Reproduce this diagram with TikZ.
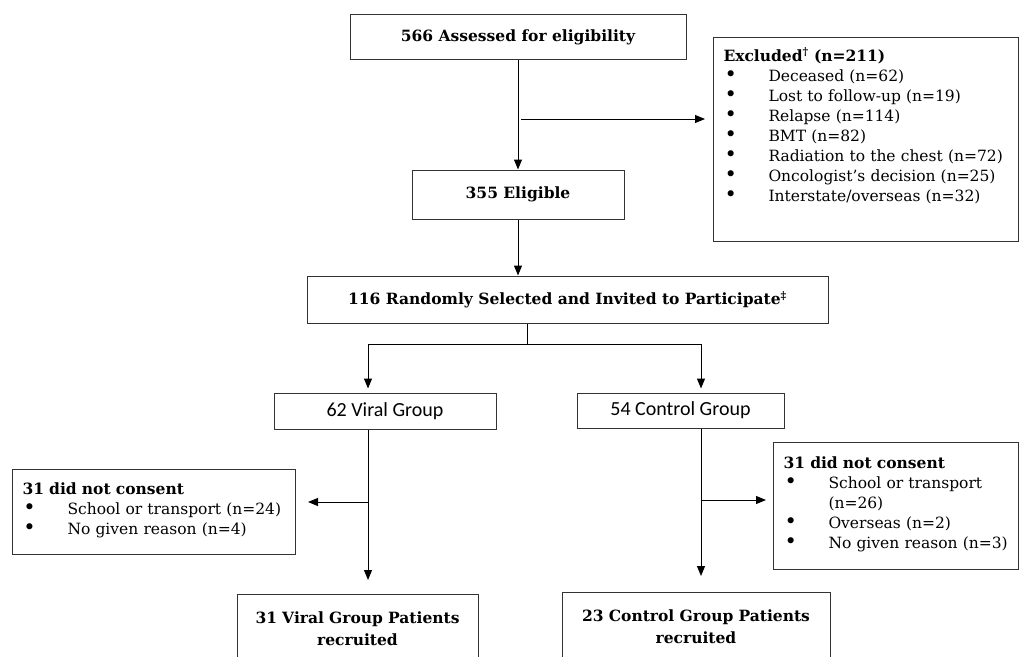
\documentclass[tikz,border=0pt]{standalone}
\usepackage{fontspec}
\setmainfont{DejaVu Serif}
\newfontfamily\grpfont{Carlito}
\usetikzlibrary{arrows.meta}
\newcommand{\bul}{\makebox[45pt][l]{\hspace*{1pt}\scalebox{1.35}{\textbullet}}}

\begin{document}
\begin{tikzpicture}[x=1pt,y=-1pt,
  box/.style={draw=black!80, line width=1pt, inner sep=0pt, align=center, font=\fontsize{15.5}{22}\selectfont\bfseries},
  grp/.style={draw=black!80, line width=1pt, inner sep=0pt, font=\fontsize{20}{24}\selectfont\grpfont},
  list/.style={draw=black!80, line width=1pt, anchor=north west, inner xsep=10pt, inner ysep=0pt, align=left, font=\fontsize{15.5}{20}\selectfont},
  arr/.style={-{Triangle[length=10pt,width=8pt]}, line width=1pt}]

\clip (0,0) rectangle (1019,656);

\node[box, minimum width=336, minimum height=45] (assess) at (518,37) {566 Assessed for eligibility};
\node[box, minimum width=212, minimum height=49] (elig) at (518,194.5) {355 Eligible};
\node[box, minimum width=521, minimum height=47] (rand) at (567.5,299.5) {116 Randomly Selected and Invited to Participate\textsuperscript{\ddag}};

\node[grp, minimum width=222, minimum height=36] (viral) at (385,411) {62 Viral Group};
\node[grp, minimum width=207, minimum height=35] (ctrl) at (680.5,410.5) {54 Control Group};

\node[box, anchor=north, text width=241, text height=28.5, text depth=60] (vrec) at (357.5,594) {31 Viral Group Patients\\recruited};
\node[box, anchor=north, text width=268, text height=28.5, text depth=60] (crec) at (696,592) {23 Control Group Patients\\recruited};

\node[list, text width=285, text height=23.5, text depth=180.5] (excl) at (713,37) {\textbf{Excluded\textsuperscript{\dag} (n=211)}\\
  \bul Deceased (n=62)\\
  \bul Lost to follow-up (n=19)\\
  \bul Relapse (n=114)\\
  \bul BMT (n=82)\\
  \bul Radiation to the chest (n=72)\\
  \bul Oncologist's decision (n=25)\\
  \bul Interstate/overseas (n=32)};
\node[list, text width=263, text height=24.5, text depth=60.5] (lcons) at (12,469) {\textbf{31 did not consent}\\
  \bul School or transport (n=24)\\
  \bul No given reason (n=4)};
\node[list, text width=225, text height=25.5, text depth=101.5] (rcons) at (773,442) {\textbf{31 did not consent}\\
  \bul School or transport\\
  \hspace*{45pt}(n=26)\\
  \bul Overseas (n=2)\\
  \bul No given reason (n=3)};

\coordinate (exjoin) at (518,119);
\coordinate (rjoin) at (527,344);
\coordinate (vline) at (368,502);
\coordinate (cline) at (701,500);

\draw[arr] (assess.south) -- (elig.north);
\draw[arr, shorten <=3pt, shorten >=8pt] (exjoin) -- (exjoin -| excl.west);
\draw[arr] (elig.south) -- (elig.south |- rand.north);

\draw[line width=1pt] (rjoin |- rand.south) -- (rjoin);
\draw[arr, shorten >=4pt] (rjoin) -| (vline |- viral.north);
\draw[arr, shorten >=4pt] (rjoin) -| (cline |- ctrl.north);

\draw[arr, shorten >=14pt] (vline |- viral.south) -- (vline |- vrec.north);
\draw[arr, shorten >=12pt] (vline) -- (vline -| lcons.east);
\draw[arr, shorten >=16pt] (cline |- ctrl.south) -- (cline |- crec.north);
\draw[arr, shorten >=7pt] (cline) -- (cline -| rcons.west);

\end{tikzpicture}
\end{document}
